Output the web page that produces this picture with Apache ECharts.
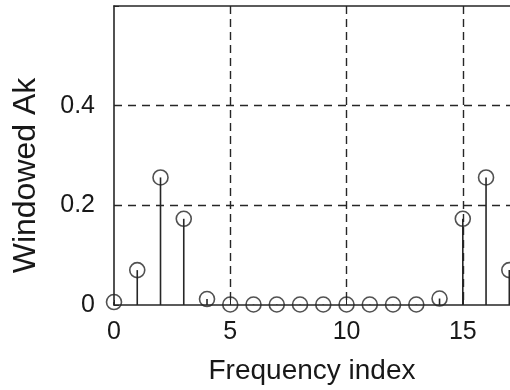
<!DOCTYPE html>
<html>
<head>
<meta charset="utf-8">
<script src="https://cdn.jsdelivr.net/npm/echarts@6/dist/echarts.min.js"></script>
<style>
html,body{margin:0;padding:0;background:#fff;}
#chart{width:510px;height:390px;}
</style>
</head>
<body>
<div id="chart"></div>
<script>
// 频率索引 与 加窗幅值
var freqIndex = [0, 1, 2, 3, 4, 5, 6, 7, 8, 9, 10, 11, 12, 13, 14, 15, 16, 17];
var windowedAk = [0.006, 0.07, 0.256, 0.173, 0.012, 0.001, 0.001, 0.001, 0.001,
                  0.001, 0.001, 0.001, 0.001, 0.001, 0.013, 0.173, 0.256, 0.07];
var xTicks = [0, 5, 10, 15];
var yTicks = [0, 0.2, 0.4];

var points = [];
for (var i = 0; i < freqIndex.length; i++) {
    points.push([freqIndex[i], windowedAk[i]]);
}

var lineColor = '#262626';
var textColor = '#181818';
var fontFamily = 'Liberation Sans, Arial, Helvetica, sans-serif';

var myChart = echarts.init(document.getElementById('chart'));

var option = {
    animation: false,
    grid: {left: 114, right: 0, top: 6, bottom: 83},
    xAxis: [{
        type: 'value',
        min: 0,
        max: 17.03,
        interval: 5,
        name: 'Frequency index',
        nameLocation: 'middle',
        nameGap: 52,
        nameTextStyle: {fontSize: 28, color: textColor, fontFamily: fontFamily},
        axisLine: {show: true, onZero: false, lineStyle: {color: lineColor, width: 1.6}},
        axisTick: {show: true, inside: true, length: 5, lineStyle: {color: lineColor}},
        axisLabel: {
            fontSize: 25, color: textColor, fontFamily: fontFamily, margin: 15,
            showMaxLabel: false,
            formatter: function (v) { return xTicks.indexOf(v) >= 0 ? String(v) : ''; }
        },
        splitLine: {
            show: true, showMinLine: false, showMaxLine: false,
            lineStyle: {color: lineColor, type: [8, 5], width: 1.4}
        }
    }, {
        type: 'value',
        position: 'top',
        min: 0,
        max: 17.03,
        interval: 5,
        axisLine: {show: true, onZero: false, lineStyle: {color: lineColor, width: 1.6}},
        axisTick: {show: false},
        axisLabel: {show: false},
        splitLine: {show: false}
    }],
    yAxis: {
        type: 'value',
        min: 0,
        max: 0.6,
        interval: 0.2,
        name: 'Windowed Ak',
        nameLocation: 'middle',
        nameGap: 72,
        nameTextStyle: {fontSize: 32, color: textColor, fontFamily: fontFamily, padding: [0, 40, 0, 0]},
        axisLine: {show: true, onZero: false, lineStyle: {color: lineColor, width: 1.6}},
        axisTick: {show: true, inside: true, length: 5, lineStyle: {color: lineColor}},
        axisLabel: {
            fontSize: 25, color: textColor, fontFamily: fontFamily, margin: 19,
            formatter: function (v) {
                for (var k = 0; k < yTicks.length; k++) {
                    if (Math.abs(yTicks[k] - v) < 1e-9) return String(yTicks[k]);
                }
                return '';
            }
        },
        splitLine: {
            show: true, showMinLine: false, showMaxLine: false,
            lineStyle: {color: lineColor, type: [8, 6], width: 1.4}
        }
    },
    series: [{
        name: 'stem',
        type: 'bar',
        data: points,
        barWidth: 1.6,
        itemStyle: {color: lineColor},
        z: 3
    }, {
        name: 'marker',
        type: 'scatter',
        data: points,
        symbol: 'circle',
        symbolSize: 15,
        clip: false,
        itemStyle: {color: 'rgba(0,0,0,0)', borderColor: lineColor, borderWidth: 1.6},
        z: 4
    }]
};

myChart.setOption(option);
</script>
</body>
</html>
